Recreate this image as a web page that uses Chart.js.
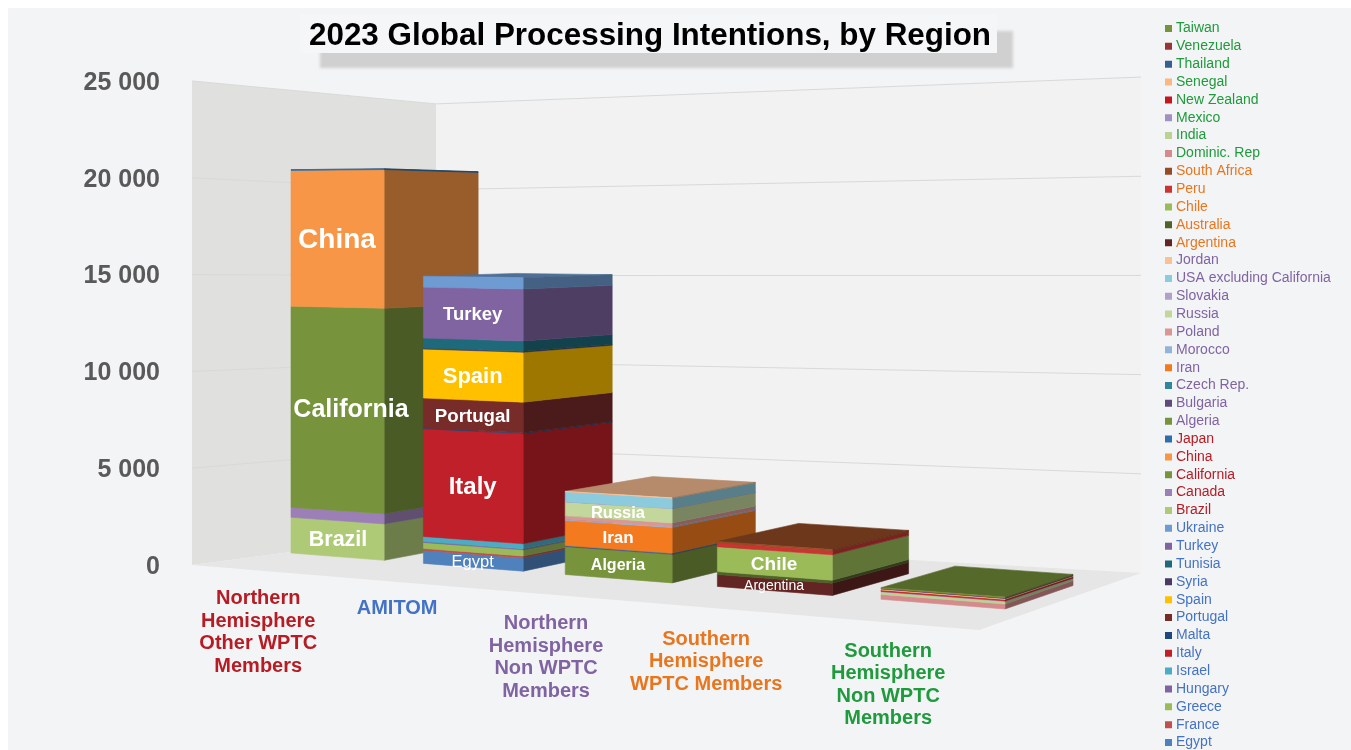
<!DOCTYPE html>
<html>
<head>
<meta charset="utf-8">
<title>2023 Global Processing Intentions, by Region</title>
<script src="https://cdn.jsdelivr.net/npm/chart.js@4"></script>
<style>
  html, body { margin: 0; padding: 0; background: #fff; }
  #wrap { width: 1351px; height: 750px; }
</style>
</head>
<body>
<div id="wrap"><canvas id="regionChart"></canvas></div>
<script>
const categories = [
  ['Northern', 'Hemisphere', 'Other WPTC', 'Members'],
  ['AMITOM'],
  ['Northern', 'Hemisphere', 'Non WPTC', 'Members'],
  ['Southern', 'Hemisphere', 'WPTC Members'],
  ['Southern', 'Hemisphere', 'Non WPTC', 'Members']
];
const categoryColors = ['#b71c24', '#4472c4', '#8064a2', '#e8761f', '#1f9a3c'];
const yTicks = { min: 0, max: 25000, step: 5000 };

// thousand tonnes per country, bottom of the stack first
const amitomNames = ['Egypt', 'France', 'Greece', 'Hungary', 'Israel', 'Italy', 'Malta', 'Portugal', 'Spain', 'Syria', 'Tunisia', 'Turkey', 'Ukraine'];
const amitomValues = [670, 100, 310, 50, 260, 5570, 40, 1550, 2530, 50, 520, 2630, 570];
const amitomColors = ['#4f81bd', '#c0504d', '#9bbb59', '#8064a2', '#4bacc6', '#c0202a', '#1f497d', '#772c2a', '#ffc000', '#4b3b63', '#1f6a7a', '#8064a2', '#6e9bd1'];

const otherNames = ['Brazil', 'Canada', 'California', 'China', 'Japan'];
const otherValues = [1900, 530, 10720, 7230, 40];
const otherColors = ['#aeca77', '#9b7fb6', '#77933c', '#f79646', '#2f6eaa'];

const nonWptcNorthNames = ['Algeria', 'Bulgaria', 'Czech Rep.', 'Iran', 'Morocco', 'Poland', 'Russia', 'Slovakia', 'USA excluding California', 'Jordan'];
const nonWptcNorthValues = [1400, 40, 20, 1250, 50, 180, 700, 10, 500, 20];
const nonWptcNorthColors = ['#77933c', '#604a7b', '#31859c', '#f47a20', '#95b3d7', '#d99694', '#c3d69b', '#b1a0c7', '#8ccbdd', '#fbc195'];

const southNames = ['Argentina', 'Australia', 'Chile', 'Peru', 'South Africa'];
const southValues = [580, 140, 1210, 190, 60];
const southColors = ['#632523', '#4f6228', '#9bbb59', '#cc3333', '#974c25'];

const nonWptcSouthNames = ['Dominic. Rep', 'India', 'Mexico', 'New Zealand', 'Senegal', 'Thailand', 'Venezuela', 'Taiwan'];
const nonWptcSouthValues = [230, 120, 25, 60, 50, 15, 15, 30];
const nonWptcSouthColors = ['#d58a8c', '#bcd295', '#a091c2', '#c3161f', '#fab781', '#376092', '#953735', '#76923c'];

// names drawn on the front of a segment: size, weight, sideways nudge
const segmentLabels = {
  China: [28, 'bold', 0], California: [25, 'bold', 14], Brazil: [21.5, 'bold', 1],
  Turkey: [18.5, 'bold', 0], Spain: [22, 'bold', 0], Portugal: [18.7, 'bold', 0],
  Italy: [24, 'bold', 0], Egypt: [16.5, 'normal', 0],
  Russia: [16.5, 'bold', 0], Iran: [17, 'bold', 0], Algeria: [16, 'bold', 0],
  Chile: [19, 'bold', 0], Argentina: [14, 'normal', 0]
};

// category index on the axis for each group, in legend order
const groups = [
  [1, amitomNames, amitomValues, amitomColors],
  [0, otherNames, otherValues, otherColors],
  [2, nonWptcNorthNames, nonWptcNorthValues, nonWptcNorthColors],
  [3, southNames, southValues, southColors],
  [4, nonWptcSouthNames, nonWptcSouthValues, nonWptcSouthColors]
];

const datasets = [];
groups.forEach(([cat, names, values, colors]) => {
  names.forEach((name, i) => {
    const data = categories.map(() => null);
    data[cat] = values[i];
    datasets.push({ label: name, data, backgroundColor: colors[i], group: cat });
  });
});

// on-screen room corners: near left, near right, far right, far left
const roomQuad = [[192, 565], [979, 630], [1141, 573], [436, 533]];
// projective camera for the bars, s across the row and v front to back
const barCamera = { a: 558.2, b: 119.4, c: 291, d: -38.4, e: 14, f: 553, g: -0.155, h: 0.0577 };
const barPct = 0.71;
const barSpan = [0.1 - 0.1 * barPct, 0.9 + 0.1 * barPct];
const barDepth = [0.28, 0.72];  // room depth of the bar fronts and backs
const heightFalloff = { u: -0.152, d: 0.128 };
const labelNudge = [[10, 29], [25, 29], [32, 32], [28, 34], [18, 30]];

function cameraMap(m) {
  return (u, v) => {
    const w = m.g * u + m.h * v + 1;
    return [(m.a * u + m.b * v + m.c) / w, (m.d * u + m.e * v + m.f) / w];
  };
}

function quadCamera(q) {
  const [p0, p1, p2, p3] = q;
  const dx1 = p1[0] - p2[0], dx2 = p3[0] - p2[0], sx = p0[0] - p1[0] + p2[0] - p3[0];
  const dy1 = p1[1] - p2[1], dy2 = p3[1] - p2[1], sy = p0[1] - p1[1] + p2[1] - p3[1];
  const den = dx1 * dy2 - dx2 * dy1;
  const g = (sx * dy2 - dx2 * sy) / den;
  const h = (dx1 * sy - sx * dy1) / den;
  return {
    g, h,
    a: p1[0] - p0[0] + g * p1[0], b: p3[0] - p0[0] + h * p3[0], c: p0[0],
    d: p1[1] - p0[1] + g * p1[1], e: p3[1] - p0[1] + h * p3[1], f: p0[1]
  };
}
const roomMap = cameraMap(quadCamera(roomQuad));
const barMap = cameraMap(barCamera);

function rise(chart, py, u, dep) {
  return (chart.chartArea.bottom - py) / (1 + heightFalloff.u * u + heightFalloff.d * dep);
}

// wall and floor position for a scale pixel at room depth dep
function projectRoom(chart, px, py, dep) {
  const area = chart.chartArea;
  const u = (px - area.left) / (area.right - area.left);
  const p = roomMap(u, dep);
  return [p[0], p[1] - rise(chart, py, u, dep)];
}

// bar position for a scale pixel; back is 0 at the front face and 1 at the rear
function projectBar(chart, px, py, back) {
  const area = chart.chartArea;
  const u = (px - area.left) / (area.right - area.left);
  const p = barMap((u - barSpan[0]) / (barSpan[1] - barSpan[0]), back);
  const dep = barDepth[0] + back * (barDepth[1] - barDepth[0]);
  return [p[0], p[1] - rise(chart, py, u, dep)];
}

function shade(hex, k) {
  const n = parseInt(hex.slice(1), 16);
  return 'rgb(' + [n >> 16, (n >> 8) & 255, n & 255].map(c => Math.round(c * k)).join(',') + ')';
}

function poly(ctx, pts, fill, edge) {
  ctx.beginPath();
  pts.forEach((p, i) => (i ? ctx.lineTo(p[0], p[1]) : ctx.moveTo(p[0], p[1])));
  ctx.closePath();
  ctx.fillStyle = fill;
  ctx.fill();
  if (edge) {
    ctx.strokeStyle = edge;
    ctx.lineWidth = 0.6;
    ctx.stroke();
  }
}

const roomPlugin = {
  id: 'room',
  afterLayout(chart) {
    const lg = chart.legend;
    const pad = chart.options.plugins.legend.labels.padding;
    lg.left = 1168 - pad;
    lg.top = 28.5 - pad - chart.options.plugins.legend.labels.font.size / 2;
    lg.bottom = 800;
    chart.titleBlock.left = 0;
    chart.titleBlock.right = 1300;
  },
  beforeDraw(chart) {
    const ctx = chart.ctx;
    const area = chart.chartArea;
    const yScale = chart.scales.y;
    ctx.save();
    ctx.fillStyle = '#ffffff';
    ctx.fillRect(0, 0, chart.width, chart.height);
    ctx.fillStyle = '#f3f4f6';
    ctx.fillRect(8, 8, chart.width - 8, chart.height - 8);

    // soft shadow under the heading box
    ctx.save();
    ctx.filter = 'blur(1.5px)';
    ctx.fillStyle = '#d0d0d0';
    ctx.fillRect(320, 31, 693, 37);
    ctx.restore();
    ctx.fillStyle = '#f5f6f7';
    ctx.fillRect(300, 14, 697, 39);

    const l = area.left, r = area.right, b = area.bottom, t = area.top;
    poly(ctx, [projectRoom(chart, l, b, 0), projectRoom(chart, l, t, 0), projectRoom(chart, l, t, 1), projectRoom(chart, l, b, 1)], '#e0e0de');
    poly(ctx, [projectRoom(chart, l, b, 1), projectRoom(chart, l, t, 1), projectRoom(chart, r, t, 1), projectRoom(chart, r, b, 1)], '#f2f2f2');
    poly(ctx, [projectRoom(chart, l, b, 0), projectRoom(chart, r, b, 0), projectRoom(chart, r, b, 1), projectRoom(chart, l, b, 1)], '#e6e6e6');

    // gridlines run along both walls
    yScale.ticks.forEach(tick => {
      if (tick.value === 0) return;
      const py = yScale.getPixelForValue(tick.value);
      ctx.beginPath();
      const a = projectRoom(chart, l, py, 0), c = projectRoom(chart, l, py, 1), e = projectRoom(chart, r, py, 1);
      ctx.moveTo(a[0], a[1]);
      ctx.lineTo(c[0], c[1]);
      ctx.lineTo(e[0], e[1]);
      ctx.strokeStyle = '#d9d9d9';
      ctx.lineWidth = 1;
      ctx.stroke();
    });
    ctx.restore();
  },
  beforeDatasetsDraw(chart) {
    const ctx = chart.ctx;
    const texts = [];
    ctx.save();
    categories.forEach((_, cat) => {
      const segs = [];
      chart.data.datasets.forEach((ds, di) => {
        if (ds.group === cat) segs.push([ds, chart.getDatasetMeta(di).data[cat]]);
      });

      // the lid goes first so the faces cover it on the tallest bars
      const [topDs, topEl] = segs[segs.length - 1];
      const lid = shade(topDs.backgroundColor, 0.72);
      const xa = topEl.x - topEl.width / 2, xb = topEl.x + topEl.width / 2;
      poly(ctx, [projectBar(chart, xa, topEl.y, 0), projectBar(chart, xb, topEl.y, 0),
        projectBar(chart, xb, topEl.y, 1), projectBar(chart, xa, topEl.y, 1)], lid, lid);

      segs.forEach(([ds, el]) => {
        const x0 = el.x - el.width / 2, x1 = el.x + el.width / 2;
        const fl = projectBar(chart, x0, el.base, 0), fr = projectBar(chart, x1, el.base, 0);
        const br = projectBar(chart, x1, el.base, 1);
        const tl = projectBar(chart, x0, el.y, 0), tr = projectBar(chart, x1, el.y, 0);
        const tb = projectBar(chart, x1, el.y, 1);
        const dark = shade(ds.backgroundColor, 0.62);
        poly(ctx, [fr, br, tb, tr], dark, dark);
        poly(ctx, [fl, fr, tr, tl], ds.backgroundColor, ds.backgroundColor);
        const spec = segmentLabels[ds.label];
        if (spec) {
          const mid = projectBar(chart, el.x, (el.y + el.base) / 2, 0);
          texts.push([ds.label, mid[0] + spec[2], mid[1] + 1.5, spec]);
        }
      });
    });

    ctx.textAlign = 'center';
    ctx.textBaseline = 'middle';
    ctx.fillStyle = '#ffffff';
    texts.forEach(([label, x, y, spec]) => {
      ctx.font = spec[1] + ' ' + spec[0] + 'px "Liberation Sans"';
      ctx.fillText(label, x, y);
    });

    // category names sit in front of the floor edge
    const xScale = chart.scales.x;
    ctx.font = 'bold 20px "Liberation Sans"';
    categories.forEach((lines, i) => {
      const p = projectRoom(chart, xScale.getPixelForTick(i), chart.chartArea.bottom, 0);
      ctx.fillStyle = categoryColors[i];
      lines.forEach((line, n) => {
        ctx.fillText(line, p[0] + labelNudge[i][0], p[1] + labelNudge[i][1] + n * 22.5);
      });
    });
    ctx.restore();
    return false;
  }
};

new Chart(document.getElementById('regionChart'), {
  type: 'bar',
  data: { labels: categories.map(c => c.join(' ')), datasets },
  plugins: [roomPlugin],
  options: {
    responsive: true,
    maintainAspectRatio: false,
    animation: false,
    events: [],
    layout: { padding: 0 },
    datasets: { bar: { barPercentage: barPct, categoryPercentage: 1 } },
    scales: {
      x: {
        stacked: true,
        grid: { display: false },
        border: { display: false },
        ticks: { display: false },
        afterFit(scale) { scale.height = 183; }
      },
      y: {
        stacked: true,
        min: yTicks.min,
        max: yTicks.max,
        grid: { display: false },
        border: { display: false },
        ticks: {
          stepSize: yTicks.step,
          padding: 22,
          color: '#595959',
          font: { family: '"Liberation Sans"', size: 25, weight: 'bold' },
          callback: v => String(v).replace(/\B(?=(\d{3})+$)/g, ' ')
        },
        afterFit(scale) { scale.width = 190; }
      }
    },
    plugins: {
      title: {
        display: true,
        text: '2023 Global Processing Intentions, by Region',
        color: '#000000',
        font: { family: '"Liberation Sans"', size: 31.4, weight: 'bold' },
        padding: { top: 17.4, bottom: 27.9 }
      },
      tooltip: { enabled: false },
      legend: {
        position: 'right',
        align: 'start',
        reverse: true,
        labels: {
          boxWidth: 1,
          boxHeight: 1,
          padding: 3.85,
          font: { family: '"Liberation Sans"', size: 14 },
          generateLabels(chart) {
            return chart.data.datasets.map((ds, i) => ({
              text: ds.label,
              fillStyle: ds.backgroundColor,
              strokeStyle: ds.backgroundColor,
              lineWidth: 6,
              fontColor: categoryColors[ds.group],
              hidden: false,
              datasetIndex: i
            }));
          }
        }
      }
    }
  }
});
</script>
</body>
</html>
